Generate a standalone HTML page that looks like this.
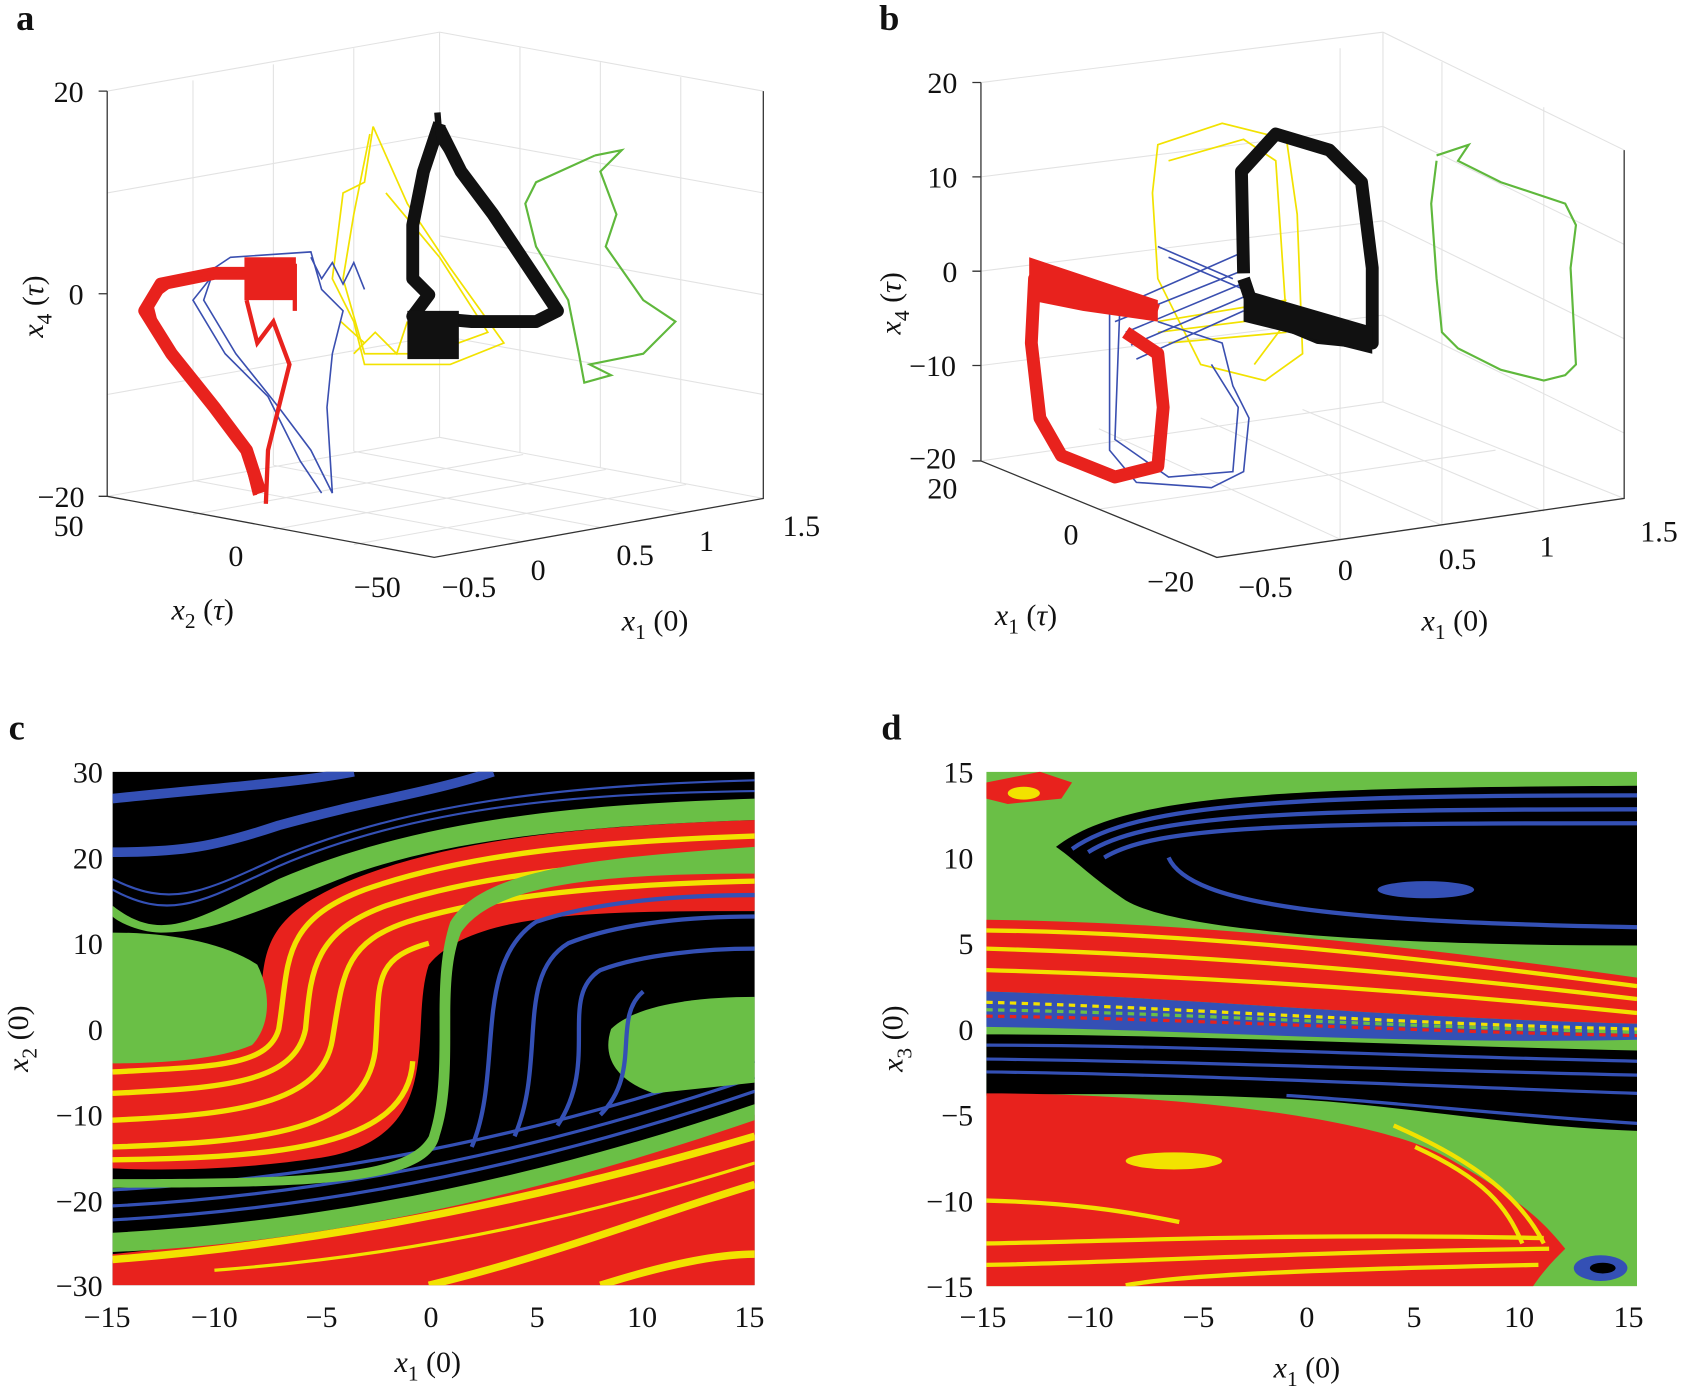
<!DOCTYPE html>
<html><head><meta charset="utf-8"><style>
html,body{margin:0;padding:0;background:#fff;}
svg{display:block;}
text{font-family:"Liberation Serif",serif;fill:#111;}
</style></head><body>
<svg width="1681" height="1386" viewBox="0 0 1568 1293" preserveAspectRatio="none" xmlns="http://www.w3.org/2000/svg">
<defs>
<clipPath id="cc"><rect x="105" y="720" width="599" height="479"/></clipPath>
<clipPath id="cd"><rect x="920" y="720" width="607" height="480"/></clipPath>
</defs>
<g font-weight="bold" font-size="34">
<text x="15" y="28">a</text><text x="820" y="28">b</text>
<text x="8" y="690">c</text><text x="822" y="690">d</text>
</g>

<!-- PANEL A axes -->
<g stroke="#e2e2e2" stroke-width="1" fill="none">
<path d="M410,30 L410,408 M100,85 L410,30 M100,180 L410,125 M100,368 L410,313 M410,30 L712,85 M410,125 L712,180 M410,220 L712,275 M410,313 L712,368"/>
<path d="M180,480 L488,424 M255,494 L565,438 M330,508 L640,452 M485,505 L180,448 M560,492 L255,434 M635,478 L330,421 M100,463 L410,408 L712,465"/>
<path d="M180,448 L180,75 M255,434 L255,60 M330,421 L330,45 M485,422 L485,44 M560,436 L560,58 M635,450 L635,72"/>
</g>
<g stroke="#333" stroke-width="1.2" fill="none">
<path d="M100,85 L100,463 L405,520 L712,465 L712,85"/>
<path d="M100,85 L92,85 M100,274 L92,274 M100,463 L92,463"/>
</g>
<g font-size="28">
<text x="50" y="95">20</text><text x="64" y="284">0</text><text x="35" y="473">−20</text>
<text x="50" y="500">50</text><text x="213" y="528">0</text><text x="330" y="557">−50</text>
<text x="412" y="557">−0.5</text><text x="495" y="541">0</text><text x="575" y="527">0.5</text><text x="652" y="514">1</text><text x="730" y="500">1.5</text>
<text x="160" y="578" font-style="italic">x<tspan font-size="20" dy="8" font-style="normal">2</tspan><tspan dy="-8" font-style="normal"> (</tspan>τ<tspan font-style="normal">)</tspan></text>
<text x="580" y="588" font-style="italic">x<tspan font-size="20" dy="8" font-style="normal">1</tspan><tspan dy="-8" font-style="normal"> (0)</tspan></text>
<text transform="translate(40,315) rotate(-90)" font-style="italic">x<tspan font-size="20" dy="8" font-style="normal">4</tspan><tspan dy="-8" font-style="normal"> (</tspan>τ<tspan font-style="normal">)</tspan></text>
</g>
<g fill="none">
<path d="M555,145 L580,140 L560,160 L575,200 L565,230 L600,280 L630,300 L600,330 L550,340 L570,350 L545,357 L540,330 L530,280 L500,230 L490,190 L500,170 L555,145" stroke="#5fb83c" stroke-width="2"/>
<g stroke="#f2e200" stroke-width="1.6">
<path d="M348,118 L340,170 L320,180 L310,260 L330,300 L340,340 L420,340 L470,320 L420,250 L380,190 L348,118"/>
<path d="M345,125 L330,200 L320,260 L340,330 L400,330 L455,310 L410,240 L360,180"/>
<path d="M318,300 L340,320 L330,330 L350,310 L370,330 L380,300"/>
</g>
<g stroke="#3a4fb0" stroke-width="1.5">
<path d="M215,240 L290,235 L300,270 L320,290 L310,330 L305,380 L310,460 L290,420 L260,380 L220,330 L190,280 L200,250 Z"/>
<path d="M200,255 L180,280 L210,330 L250,370 L280,430 L300,460"/>
<path d="M290,240 L300,260 L310,245 L320,265 L330,245 L340,270"/>
</g>
<g stroke="#e8221d" stroke-width="12" stroke-linejoin="round">
<path d="M243,460 L230,420 L200,380 L160,330 L135,290 L150,265 L200,255 L255,255"/>
</g>
<g stroke="#e8221d" stroke-width="4">
<path d="M248,470 L250,420 L260,380 L270,340 L255,300 L240,320 L230,280"/>
<path d="M238,462 L225,410 L190,370 L145,300 L140,280 L170,258 L240,250"/>
<path d="M230,248 L275,248 L275,290"/>
</g>
<rect x="228" y="240" width="48" height="40" fill="#e8221d"/>
<g stroke="#111" stroke-width="12" stroke-linejoin="round">
<path d="M410,115 L395,160 L385,210 L385,260 L400,275 L385,295 L440,300 L500,300 L520,290 L500,260 L460,200 L430,160 L410,120"/>
</g>
<rect x="380" y="290" width="48" height="45" fill="#111"/>
<path d="M408,105 L410,130 L430,160" stroke="#111" stroke-width="6" fill="none"/>
</g>

<!-- PANEL B axes -->
<g stroke="#e2e2e2" stroke-width="1" fill="none">
<path d="M1290,30 L1290,375 M915,77 L1290,30 M915,165 L1290,118 M915,253 L1290,206 M915,341 L1290,294 M1290,30 L1515,140 M1290,118 L1515,228 M1290,206 L1515,316 M1290,294 L1515,404"/>
<path d="M915,430 L1290,375 L1515,465 M1025,475 L1395,420 M1250,503 L1025,400 M1345,490 L1120,390 M1440,477 L1215,382"/>
<path d="M1345,490 L1345,58 M1440,477 L1440,100 M1250,503 L1250,45"/>
</g>
<g stroke="#333" stroke-width="1.2" fill="none">
<path d="M915,77 L915,430 L1135,520 L1515,465 L1515,140"/>
<path d="M915,77 L907,77 M915,165 L907,165 M915,253 L907,253 M915,341 L907,341 M915,430 L907,430"/>
</g>
<g font-size="28">
<text x="865" y="87">20</text><text x="865" y="175">10</text><text x="879" y="263">0</text><text x="848" y="351">−10</text><text x="848" y="437">−20</text>
<text x="865" y="465">20</text><text x="992" y="508">0</text><text x="1070" y="552">−20</text>
<text x="1155" y="557">−0.5</text><text x="1248" y="541">0</text><text x="1342" y="531">0.5</text><text x="1436" y="519">1</text><text x="1530" y="505">1.5</text>
<text x="928" y="583" font-style="italic">x<tspan font-size="20" dy="8" font-style="normal">1</tspan><tspan dy="-8" font-style="normal"> (</tspan>τ<tspan font-style="normal">)</tspan></text>
<text x="1326" y="588" font-style="italic">x<tspan font-size="20" dy="8" font-style="normal">1</tspan><tspan dy="-8" font-style="normal"> (0)</tspan></text>
<text transform="translate(840,312) rotate(-90)" font-style="italic">x<tspan font-size="20" dy="8" font-style="normal">4</tspan><tspan dy="-8" font-style="normal"> (</tspan>τ<tspan font-style="normal">)</tspan></text>
</g>
<g fill="none">
<path d="M1340,145 L1370,135 L1360,150 L1400,170 L1460,190 L1470,210 L1465,250 L1470,340 L1460,350 L1440,355 L1400,345 L1380,335 L1360,325 L1345,310 L1340,260 L1335,190 L1340,150" stroke="#5fb83c" stroke-width="2"/>
<g stroke="#f2e200" stroke-width="1.6">
<path d="M1080,135 L1140,115 L1200,130 L1210,200 L1215,330 L1180,355 L1120,340 L1100,300 L1080,260 L1075,180 Z"/>
<path d="M1090,150 L1160,130 L1190,150 L1200,300 L1170,340"/>
<path d="M1080,300 L1200,280 M1080,310 L1200,295 M1090,320 L1200,310"/>
</g>
<g stroke="#3a4fb0" stroke-width="1.5">
<path d="M1035,270 L1035,420 L1060,450 L1130,455 L1160,440 L1165,390 L1150,360 L1140,320 L1080,300"/>
<path d="M1045,275 L1040,410 L1090,445 L1150,440 L1155,380 L1130,340"/>
<path d="M1035,290 L1160,235 M1040,300 L1165,250 M1050,310 L1165,262 M1055,322 L1165,275 M1060,335 L1160,290 M1080,230 L1150,260 M1090,240 L1160,270"/>
</g>
<g stroke="#e8221d" stroke-width="12" stroke-linejoin="round">
<path d="M1080,290 L1020,270 L965,260 L962,320 L970,390 L990,425 L1040,445 L1080,435 L1085,380 L1080,330 L1050,310"/>
</g>
<path d="M960,240 L1080,280 L1080,300 L1010,290 L960,280" fill="#e8221d"/>
<g stroke="#111" stroke-width="12" stroke-linejoin="round">
<path d="M1160,255 L1158,160 L1190,125 L1240,140 L1270,170 L1280,250 L1280,320 L1230,315 L1170,290 L1160,260"/>
</g>
<path d="M1160,270 L1280,305 L1280,330 L1160,300 Z" fill="#111"/>
</g>

<!-- PANEL C -->
<g clip-path="url(#cc)">
<rect x="105" y="720" width="599" height="479" fill="#000"/>
<path d="M105,1170 C300,1150 500,1110 704,1040 L704,1199 L105,1199 Z" fill="#e8221d"/>
<g fill="none" stroke="#f2e200" stroke-width="7">
<path d="M400,1199 C520,1170 620,1130 704,1105"/>
<path d="M105,1175 C300,1160 500,1120 704,1060"/>
<path d="M560,1199 C620,1180 670,1170 704,1170"/>
<path d="M200,1185 C400,1170 560,1130 704,1085" stroke-width="3"/>
</g>
<path d="M105,1150 C300,1140 500,1100 704,1030 L704,1045 C500,1115 300,1160 105,1168 Z" fill="#6abf46"/>
<g fill="none" stroke="#3450b5" stroke-width="3">
<path d="M105,1110 C300,1100 500,1060 704,990"/>
<path d="M105,1125 C300,1115 500,1075 704,1005"/>
<path d="M105,1138 C300,1128 500,1088 704,1018"/>
</g>
<path d="M105,990 C180,985 230,990 240,960 C250,900 230,860 330,820 C430,780 560,770 704,765 L704,850 C560,850 440,850 400,900 C380,960 420,1060 300,1080 C220,1092 150,1092 105,1090 Z" fill="#e8221d"/>
<g fill="none" stroke="#f2e200" stroke-width="5">
<path d="M105,1000 C200,995 250,995 260,960 C270,900 260,860 340,830 C440,795 560,785 704,780"/>
<path d="M105,1020 C210,1015 275,1010 285,960 C290,910 290,870 360,845 C450,815 560,805 704,800"/>
<path d="M105,1045 C220,1040 300,1030 310,970 C320,910 320,880 380,860 C460,835 570,825 704,822"/>
<path d="M105,1070 C250,1065 340,1055 350,980 C355,920 345,895 400,880"/>
<path d="M105,1082 C260,1080 380,1070 385,990"/>
</g>
<path d="M105,870 C160,870 210,880 240,900 C255,930 250,960 235,975 C200,990 140,992 105,992 Z" fill="#6abf46"/>
<path d="M704,790 C560,800 450,810 420,860 C400,920 420,1000 400,1060 C380,1095 300,1100 105,1100 L105,1108 C300,1108 400,1105 410,1060 C430,1000 410,920 430,870 C460,825 560,815 704,815 Z" fill="#6abf46"/>
<path d="M704,930 C640,930 590,940 570,960 C560,990 580,1010 610,1020 L704,1010 Z" fill="#6abf46"/>
<g fill="none" stroke="#3450b5" stroke-width="4">
<path d="M440,1070 C470,1000 440,900 500,860 C560,840 640,835 704,835"/>
<path d="M480,1060 C510,990 480,910 530,880 C580,860 650,855 704,855"/>
<path d="M520,1050 C560,990 520,930 560,905 C600,890 660,885 704,885"/>
<path d="M560,1040 C600,1000 570,950 600,925"/>
</g>
<path d="M105,845 C150,880 180,860 260,820 C400,760 560,750 704,745 L704,765 C560,770 430,780 330,815 C240,850 200,870 150,870 C130,870 110,860 105,855 Z" fill="#6abf46"/>
<g fill="none" stroke="#3450b5" stroke-width="9">
<path d="M105,745 C200,735 280,730 330,720"/>
<path d="M105,795 C170,795 200,790 260,770 C350,745 400,740 460,720"/>
</g>
<g fill="none" stroke="#3450b5" stroke-width="2">
<path d="M105,830 C160,860 190,840 260,808 C400,748 560,740 704,738"/>
<path d="M105,820 C160,848 190,832 260,800 C400,742 560,732 704,728"/>
</g>
</g>
<g font-size="28">
<text x="68" y="730">30</text><text x="68" y="810">20</text><text x="68" y="890">10</text><text x="82" y="970">0</text>
<text x="52" y="1050">−10</text><text x="52" y="1130">−20</text><text x="52" y="1209">−30</text>
<text x="78" y="1238">−15</text><text x="178" y="1238">−10</text><text x="285" y="1238">−5</text><text x="395" y="1238">0</text><text x="494" y="1238">5</text><text x="585" y="1238">10</text><text x="685" y="1238">15</text>
<text x="368" y="1280" font-style="italic">x<tspan font-size="20" dy="8" font-style="normal">1</tspan><tspan dy="-8" font-style="normal"> (0)</tspan></text>
<text transform="translate(26,1000) rotate(-90)" font-style="italic">x<tspan font-size="20" dy="8" font-style="normal">2</tspan><tspan dy="-8" font-style="normal"> (0)</tspan></text>
</g>

<!-- PANEL D -->
<g clip-path="url(#cd)">
<rect x="920" y="720" width="607" height="480" fill="#6abf46"/>
<path d="M985,790 C1050,740 1200,735 1527,733 L1527,882 C1300,882 1100,870 1050,840 C1020,820 1000,800 985,790 Z" fill="#000"/>
<g fill="none" stroke="#3450b5" stroke-width="4">
<path d="M1000,792 C1060,750 1200,742 1527,742"/>
<path d="M1015,795 C1070,760 1200,755 1527,755"/>
<path d="M1030,800 C1080,770 1200,768 1527,768"/>
<path d="M1090,800 C1110,845 1250,860 1527,865"/>
</g>
<ellipse cx="1330" cy="830" rx="45" ry="8" fill="#3450b5"/>
<path d="M920,730 L970,720 L1000,730 L990,745 L940,750 L920,745 Z" fill="#e8221d"/>
<ellipse cx="955" cy="740" rx="15" ry="6" fill="#f2e200"/>
<path d="M920,858 C1100,860 1300,880 1527,912 L1527,955 C1300,950 1100,930 920,925 Z" fill="#e8221d"/>
<g fill="none" stroke="#f2e200" stroke-width="4">
<path d="M920,868 C1100,870 1300,890 1527,920"/>
<path d="M920,885 C1100,890 1300,905 1527,932"/>
<path d="M920,905 C1100,910 1300,922 1527,945"/>
</g>
<path d="M920,925 C1100,930 1300,950 1527,955 L1527,970 C1300,975 1100,960 920,958 Z" fill="#3450b5"/>
<g fill="none" stroke-width="3" stroke-dasharray="6 5">
<path d="M920,935 C1100,940 1300,955 1527,960" stroke="#f2e200"/>
<path d="M920,948 C1100,950 1300,962 1527,966" stroke="#e8221d"/>
<path d="M920,942 C1100,945 1300,958 1527,963" stroke="#6abf46"/>
</g>
<path d="M920,965 C1100,965 1300,975 1527,980 L1527,1055 C1400,1050 1300,1030 1200,1025 C1100,1020 1000,1020 920,1022 Z" fill="#000"/>
<g fill="none" stroke="#3450b5" stroke-width="3">
<path d="M920,975 C1100,975 1300,985 1527,990"/>
<path d="M920,988 C1100,990 1300,998 1527,1003"/>
<path d="M920,1000 C1100,1002 1300,1012 1527,1020"/>
<path d="M1200,1022 C1300,1028 1400,1040 1527,1048"/>
</g>
<path d="M920,1020 C1080,1020 1280,1040 1350,1080 C1420,1120 1440,1140 1460,1165 C1450,1175 1440,1185 1430,1200 L920,1200 Z" fill="#e8221d"/>
<g fill="none" stroke="#f2e200" stroke-width="4">
<path d="M1300,1050 C1380,1085 1420,1120 1440,1160"/>
<path d="M1320,1070 C1385,1100 1405,1125 1420,1160"/>
<path d="M920,1120 C1000,1122 1050,1130 1100,1140"/>
<path d="M920,1160 C1050,1158 1200,1150 1440,1155"/>
<path d="M920,1180 C1050,1178 1200,1168 1445,1165"/>
<path d="M1050,1199 C1100,1190 1200,1185 1435,1180"/>
</g>
<ellipse cx="1095" cy="1083" rx="45" ry="8" fill="#f2e200"/>
<ellipse cx="1493" cy="1183" rx="25" ry="12" fill="#3450b5"/>
<ellipse cx="1495" cy="1183" rx="12" ry="5" fill="#000"/>
</g>
<g font-size="28">
<text x="880" y="730">15</text><text x="880" y="810">10</text><text x="894" y="890">5</text><text x="894" y="970">0</text>
<text x="878" y="1050">−5</text><text x="864" y="1130">−10</text><text x="864" y="1210">−15</text>
<text x="895" y="1238">−15</text><text x="995" y="1238">−10</text><text x="1103" y="1238">−5</text><text x="1212" y="1238">0</text><text x="1312" y="1238">5</text><text x="1403" y="1238">10</text><text x="1505" y="1238">15</text>
<text x="1188" y="1285" font-style="italic">x<tspan font-size="20" dy="8" font-style="normal">1</tspan><tspan dy="-8" font-style="normal"> (0)</tspan></text>
<text transform="translate(842,1000) rotate(-90)" font-style="italic">x<tspan font-size="20" dy="8" font-style="normal">3</tspan><tspan dy="-8" font-style="normal"> (0)</tspan></text>
</g>
</svg>
</body></html>
